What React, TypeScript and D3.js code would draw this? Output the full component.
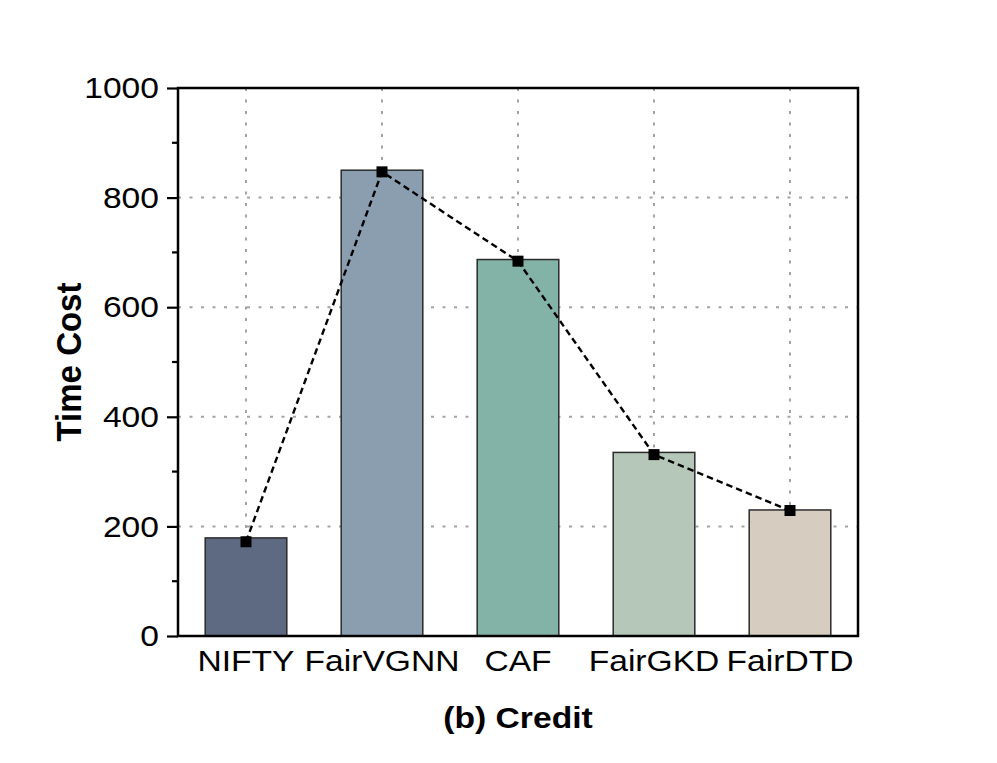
import React, { useEffect, useRef } from "react";
import * as d3 from "d3";

const methods = ["NIFTY", "FairVGNN", "CAF", "FairGKD", "FairDTD"];
const barValues = [179, 850, 687, 335, 230];
const lineValues = [172, 847, 684, 331, 229];
const barColors = ["#5e6a82", "#8b9eaf", "#83b2a7", "#b4c7b9", "#d6ccc0"];
const yTicks = [0, 200, 400, 600, 800, 1000];
const yMinorTicks = [100, 300, 500, 700, 900];

const WIDTH = 997;
const HEIGHT = 763;
const margin = { top: 88, right: 139, bottom: 127, left: 178 };
const FONT = "'Liberation Sans', Arial, sans-serif";

const App = () => {
  const ref = useRef<SVGSVGElement>(null);

  useEffect(() => {
    const svg = d3.select(ref.current);
    svg.selectAll("*").remove();

    const innerW = WIDTH - margin.left - margin.right;
    const innerH = HEIGHT - margin.top - margin.bottom;

    const x = d3
      .scaleBand()
      .domain(methods)
      .range([0, innerW])
      .paddingInner(0.4)
      .paddingOuter(0.2);
    const y = d3.scaleLinear().domain([0, 1000]).range([innerH, 0]);

    const g = svg
      .append("g")
      .attr("transform", `translate(${margin.left},${margin.top})`);

    // dotted grid
    g.selectAll(".hgrid")
      .data(yTicks.slice(1, -1))
      .enter()
      .append("line")
      .attr("x1", 0)
      .attr("x2", innerW)
      .attr("y1", (d) => y(d))
      .attr("y2", (d) => y(d))
      .attr("stroke", "#a3a3a3")
      .attr("stroke-width", 2)
      .attr("stroke-dasharray", "3,8.5");

    g.selectAll(".vgrid")
      .data(methods)
      .enter()
      .append("line")
      .attr("x1", (d) => x(d)! + x.bandwidth() / 2)
      .attr("x2", (d) => x(d)! + x.bandwidth() / 2)
      .attr("y1", 0)
      .attr("y2", innerH)
      .attr("stroke", "#a3a3a3")
      .attr("stroke-width", 2)
      .attr("stroke-dasharray", "3,8.5");

    // bars
    g.selectAll(".bar")
      .data(methods)
      .enter()
      .append("rect")
      .attr("x", (d) => x(d)!)
      .attr("y", (d, i) => y(barValues[i]))
      .attr("width", x.bandwidth())
      .attr("height", (d, i) => innerH - y(barValues[i]))
      .attr("fill", (d, i) => barColors[i])
      .attr("stroke", "#2b2b2b")
      .attr("stroke-width", 1.5);

    // dashed line with square markers
    const line = d3
      .line<number>()
      .x((d, i) => x(methods[i])! + x.bandwidth() / 2)
      .y((d) => y(d));

    g.append("path")
      .datum(lineValues)
      .attr("d", line)
      .attr("fill", "none")
      .attr("stroke", "#000")
      .attr("stroke-width", 2.4)
      .attr("stroke-dasharray", "6.5,4");

    const m = 11;
    g.selectAll(".marker")
      .data(lineValues)
      .enter()
      .append("rect")
      .attr("x", (d, i) => x(methods[i])! + x.bandwidth() / 2 - m / 2)
      .attr("y", (d) => y(d) - m / 2)
      .attr("width", m)
      .attr("height", m)
      .attr("fill", "#000");

    // y axis
    const yAxis = g
      .append("g")
      .call(
        d3
          .axisLeft(y)
          .tickValues(yTicks)
          .tickSize(11)
          .tickPadding(6)
          .tickFormat(d3.format("d"))
      );
    yAxis.select(".domain").remove();
    yAxis.selectAll(".tick line").attr("stroke", "#000").attr("stroke-width", 2.2);
    yAxis
      .selectAll(".tick text")
      .attr("fill", "#000")
      .attr("transform", "scale(1.12,1)")
      .style("font-family", FONT)
      .style("font-size", "30px");

    g.selectAll(".minor")
      .data(yMinorTicks)
      .enter()
      .append("line")
      .attr("x1", -6)
      .attr("x2", 0)
      .attr("y1", (d) => y(d))
      .attr("y2", (d) => y(d))
      .attr("stroke", "#000")
      .attr("stroke-width", 2.2);

    // x axis labels
    const xAxis = g
      .append("g")
      .attr("transform", `translate(0,${innerH})`)
      .call(d3.axisBottom(x).tickSize(0).tickPadding(14));
    xAxis.select(".domain").remove();
    xAxis
      .selectAll(".tick text")
      .attr("fill", "#000")
      .attr("transform", "scale(1.12,1)")
      .style("font-family", FONT)
      .style("font-size", "30px");

    // frame
    g.append("rect")
      .attr("x", 0)
      .attr("y", 0)
      .attr("width", innerW)
      .attr("height", innerH)
      .attr("fill", "none")
      .attr("stroke", "#000")
      .attr("stroke-width", 2.5);

    // axis titles
    g.append("text")
      .attr(
        "transform",
        `translate(-97,${innerH / 2}) scale(1.06,1) rotate(-90)`
      )
      .attr("text-anchor", "middle")
      .style("font-family", FONT)
      .style("font-weight", "bold")
      .style("font-size", "33px")
      .text("Time Cost");

    g.append("text")
      .attr("transform", `translate(${innerW / 2},${innerH + 92}) scale(1.16,1)`)
      .attr("text-anchor", "middle")
      .style("font-family", FONT)
      .style("font-weight", "bold")
      .style("font-size", "29px")
      .text("(b) Credit");
  }, []);

  return (
    <svg
      ref={ref}
      width={WIDTH}
      height={HEIGHT}
      style={{ position: "absolute", left: 0, top: 0, background: "#fff" }}
    ></svg>
  );
};

export default App;
